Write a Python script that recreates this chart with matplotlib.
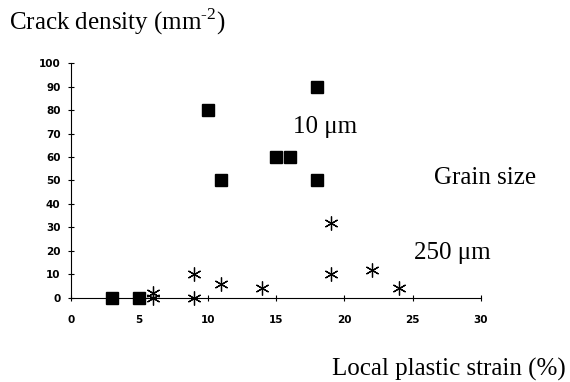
import numpy as np
import matplotlib.pyplot as plt

# datos
sq_x = [3, 5, 10, 11, 15, 16, 18, 18]
sq_y = [0, 0, 80, 50, 60, 60, 90, 50]
st_x = [6, 6, 9, 9, 11, 14, 19, 19, 22, 24]
st_y = [0, 2, 10, 0, 6, 4, 32, 10, 12, 4]

xticks = [0, 5, 10, 15, 20, 25, 30]
yticks = [0, 10, 20, 30, 40, 50, 60, 70, 80, 90, 100]

serif = 'Liberation Serif'
plt.rcParams['mathtext.fontset'] = 'custom'
plt.rcParams['mathtext.rm'] = serif

fig = plt.figure(figsize=(5.7, 3.82), dpi=100)
ax = fig.add_axes([0.1244, 0.2207, 0.7195, 0.6136])

ax.plot(sq_x, sq_y, 's', color='black', markersize=8.5, clip_on=False, zorder=3)
ax.plot(st_x, st_y, marker=(6, 2, 0), linestyle='none', color='black',
        markersize=10, markeredgewidth=0.9, clip_on=False, zorder=3)

ax.set_xlim(0, 30)
ax.set_ylim(0, 100)
ax.set_xticks(xticks)
ax.set_yticks(yticks)
ax.spines['top'].set_visible(False)
ax.spines['right'].set_visible(False)
ax.spines['left'].set_linewidth(0.8)
ax.spines['bottom'].set_linewidth(0.8)
ax.tick_params(direction='inout', length=5, width=0.8, labelsize=7.5, pad=5)
for lbl in ax.get_xticklabels() + ax.get_yticklabels():
    lbl.set_fontweight('bold')
ax.tick_params(axis='x', pad=10)

fs = 18
fig.text(0.015, 0.943, r'Crack density (mm$^{\text{-2}}$)', family=serif,
         fontsize=fs, va='center', ha='left')
fig.text(0.993, 0.032, 'Local plastic strain (%)', family=serif, fontsize=fs,
         va='center', ha='right')
fig.text(0.514, 0.667, '10 \u03bcm', family=serif, fontsize=fs, va='center')
fig.text(0.761, 0.534, 'Grain size', family=serif, fontsize=fs, va='center')
fig.text(0.726, 0.338, '250 \u03bcm', family=serif, fontsize=fs, va='center')

plt.savefig('out.png', dpi=100)
